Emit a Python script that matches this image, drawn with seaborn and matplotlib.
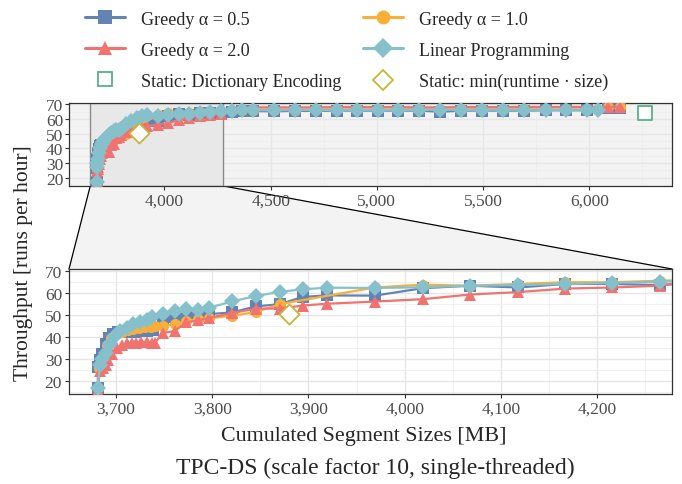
import numpy as np
import pandas as pd
import seaborn as sns
import matplotlib.pyplot as plt
from matplotlib.patches import Polygon, Rectangle
from matplotlib.lines import Line2D
from matplotlib.ticker import FuncFormatter, MultipleLocator

# --- data ---
tail_x = [4316, 4365, 4415, 4515, 4613, 4715, 4810, 4906, 5005, 5100, 5198,
          5299, 5398, 5497, 5594, 5692, 5796, 5890, 5987]

g05_x = [3681, 3681, 3683, 3685, 3689, 3693, 3697, 3702, 3708, 3714, 3720, 3726,
         3732, 3738, 3749, 3761, 3773, 3785, 3797, 3821, 3845, 3870, 3894, 3919,
         3969, 4019, 4068, 4118, 4167, 4216, 4266] + tail_x + [6090, 6145]
g05_y = [16.8, 26.5, 29.5, 32.5, 37.0, 39.5, 41.5, 42.3, 42.5, 42.3, 42.5, 42.8,
         43.0, 43.3, 47.4, 49.3, 49.0, 49.8, 50.5, 51.3, 54.0, 55.0, 58.3, 59.0,
         58.9, 62.3, 63.4, 62.6, 64.2, 64.2, 63.7,
         65.0, 65.5, 65.5, 65.3, 65.6, 65.6, 65.8, 65.8, 65.8, 65.8, 65.8,
         65.0, 65.8, 65.8, 65.8, 65.8, 66.0, 66.0, 66.0, 67.5, 67.5]

g10_x = [3681, 3682, 3684, 3687, 3691, 3695, 3700, 3706, 3712, 3718, 3724, 3730,
         3736, 3740, 3749, 3761, 3773, 3785, 3797, 3821, 3845, 3870,
         3969, 4019, 4068, 4118, 4167, 4216, 4266] + tail_x + [6090, 6145]
g10_y = [16.8, 26.0, 29.0, 32.5, 36.5, 39.5, 41.5, 42.5, 43.2, 43.8, 44.2, 44.5,
         44.8, 45.0, 45.3, 45.8, 47.4, 48.2, 48.6, 49.8, 51.4, 55.0,
         62.6, 63.9, 63.4, 64.2, 65.0, 65.0, 65.7,
         66.2, 66.5, 66.5, 66.5, 66.5, 66.6, 66.6, 66.6, 66.6, 66.6, 66.6,
         66.6, 66.6, 66.6, 66.6, 66.6, 66.6, 66.6, 66.6, 68.0, 68.0]

g20_x = [3681, 3683, 3686, 3689, 3692, 3696, 3701, 3706, 3711, 3716, 3721, 3726,
         3732, 3737, 3740, 3749, 3761, 3773, 3785, 3797, 3821, 3845, 3870, 3894,
         3919, 3969, 4019, 4068, 4118, 4167, 4216, 4266] + tail_x + [6090, 6145]
g20_y = [16.2, 24.5, 26.0, 27.5, 29.5, 32.5, 35.0, 36.5, 37.3, 37.5, 37.6, 37.8,
         37.9, 37.6, 37.3, 42.0, 42.8, 46.8, 47.6, 48.8, 51.0, 53.0, 53.0, 54.4,
         55.2, 56.2, 57.3, 59.4, 60.5, 62.1, 62.6, 63.4,
         67.5, 68.0, 68.0, 68.0, 68.0, 68.0, 68.2, 68.2, 68.2, 68.2, 68.0,
         68.0, 68.2, 68.2, 68.2, 68.3, 68.3, 68.3, 68.3, 68.3, 68.3]

lp_x = [3681, 3683, 3685, 3689, 3694, 3699, 3704, 3711, 3718, 3725, 3732, 3737,
        3749, 3761, 3773, 3785, 3797, 3821, 3845, 3870, 3894, 3919,
        3969, 4019, 4068, 4118, 4167, 4216, 4266] + tail_x + [6042]
lp_y = [16.8, 27.5, 30.0, 33.0, 37.0, 40.4, 42.8, 44.4, 45.8, 46.8, 48.0, 49.0,
        50.4, 52.0, 52.6, 52.2, 53.5, 56.3, 58.7, 60.6, 61.8, 62.5,
        62.4, 62.7, 63.4, 63.7, 64.2, 64.7, 65.3,
        65.8, 66.0, 66.0, 66.0, 66.2, 66.2, 66.2, 66.3, 66.3, 66.3, 66.3,
        66.3, 66.3, 66.5, 66.5, 66.5, 66.5, 66.5, 66.5, 66.3]

dict_x, dict_y = [6260], [64.1]
minrs_x, minrs_y = [3880], [50.6]

methods = ["Greedy α = 0.5", "Greedy α = 1.0", "Greedy α = 2.0", "Linear Programming"]
colors = ["#6183B5", "#FBAE38", "#F2726F", "#86C1CB"]
marks = ["s", "o", "^", "D"]

df = pd.concat([
    pd.DataFrame({"size": x, "throughput": y, "method": m})
    for x, y, m in zip([g05_x, g10_x, g20_x, lp_x], [g05_y, g10_y, g20_y, lp_y], methods)
], ignore_index=True)

sns.set_style("whitegrid")
plt.rcParams['font.family'] = ['Liberation Serif', 'DejaVu Serif']

W, H = 682, 485
fig = plt.figure(figsize=(W / 100, H / 100), dpi=100)
ax_top = fig.add_axes([69 / W, 1 - 187 / H, 603 / W, 83 / H])
ax_bot = fig.add_axes([69 / W, 1 - 395 / H, 603 / W, 125 / H])

zoom = (3651, 4278)
ylim = (14.2, 71.0)

for ax in (ax_top, ax_bot):
    sns.lineplot(data=df, x="size", y="throughput", hue="method", style="method",
                 palette=dict(zip(methods, colors)), markers=dict(zip(methods, marks)),
                 dashes=False, estimator=None, sort=False, markersize=8,
                 markeredgewidth=0, linewidth=1.6, legend=False, ax=ax, zorder=3)
    sns.scatterplot(x=dict_x, y=dict_y, marker="s", s=100, facecolor="white",
                    edgecolor="#5AAE8C", linewidth=1.3, ax=ax, zorder=4)
    sns.scatterplot(x=minrs_x, y=minrs_y, marker="D", s=105, facecolor="white",
                    edgecolor="#C6B63A", linewidth=1.3, ax=ax, zorder=4)
    ax.set_ylim(*ylim)
    ax.yaxis.set_major_locator(MultipleLocator(10))
    ax.yaxis.set_minor_locator(MultipleLocator(5))
    ax.xaxis.set_major_formatter(FuncFormatter(lambda v, p: f"{v:,.0f}"))
    ax.grid(which="major", color="#E6E6E6", lw=1.0)
    ax.grid(which="minor", color="#EEEEEE", lw=0.6)
    ax.set_xlabel("")
    ax.set_ylabel("")
    for sp in ax.spines.values():
        sp.set_color("#333333")
        sp.set_linewidth(0.9)
    ax.tick_params(which="major", direction="out", length=3, width=0.8, color="#333333",
                   labelcolor="#4D4D4D", labelsize=12.5, pad=2, bottom=True, left=True)

ax_top.set_xlim(3551, 6389)
ax_top.xaxis.set_major_locator(MultipleLocator(500))
ax_top.xaxis.set_minor_locator(MultipleLocator(250))
ax_top.set_facecolor("#F3F3F3")
ax_top.add_patch(Rectangle((zoom[0], ylim[0]), zoom[1] - zoom[0], ylim[1] - ylim[0],
                           facecolor="#E8E8E8", edgecolor="#8C8C8C", lw=1.0, zorder=1))
ax_top.tick_params(axis="y", pad=1)

ax_bot.set_xlim(*zoom)
ax_bot.xaxis.set_major_locator(MultipleLocator(100))
ax_bot.xaxis.set_minor_locator(MultipleLocator(50))
ax_bot.set_facecolor("white")

# connector between the overview and the zoomed panel
to_fig = fig.transFigure.inverted()
p1 = to_fig.transform(ax_top.transData.transform((zoom[0], ylim[0])))
p2 = to_fig.transform(ax_top.transData.transform((zoom[1], ylim[0])))
p3 = to_fig.transform(ax_bot.transAxes.transform((1, 1)))
p4 = to_fig.transform(ax_bot.transAxes.transform((0, 1)))
fig.patches.append(Polygon([p1, p2, p3, p4], closed=True, transform=fig.transFigure,
                           facecolor="#F3F3F3", edgecolor="none", zorder=-5))
for a, b in ((p1, p4), (p2, p3)):
    fig.lines.append(Line2D([a[0], b[0]], [a[1], b[1]], transform=fig.transFigure,
                            color="black", lw=0.9, zorder=-4))

fig.text(0.034, 1 - 263 / H, "Throughput [runs per hour]", rotation=90,
         ha="center", va="center", fontsize=15.5)
fig.text(364 / W, 1 - 437 / H, "Cumulated Segment Sizes [MB]",
         ha="center", va="center", fontsize=15.8)
fig.text(375 / W, 1 - 468 / H, "TPC-DS (scale factor 10, single-threaded)",
         ha="center", va="center", fontsize=17)

# legend
def h(i):
    return Line2D([], [], color=colors[i], marker=marks[i], lw=2.2, markersize=10,
                  markeredgewidth=0)

handles = [h(0), h(2),
           Line2D([], [], ls="none", marker="s", markersize=10, mfc="white",
                  mec="#5AAE8C", mew=1.3),
           h(1), h(3),
           Line2D([], [], ls="none", marker="D", markersize=10, mfc="white",
                  mec="#C6B63A", mew=1.3)]
labels = [methods[0], methods[2], "Static: Dictionary Encoding",
          methods[1], methods[3], "Static: min(runtime · size)"]
fig.legend(handles, labels, ncol=2, loc="upper left", bbox_to_anchor=(76 / W, 1 - 2.5 / H),
           frameon=False, fontsize=13, handlelength=2.2, handletextpad=0.9,
           labelspacing=0.78, columnspacing=1.2, borderaxespad=0.1)

fig.savefig("out.png", dpi=100)
